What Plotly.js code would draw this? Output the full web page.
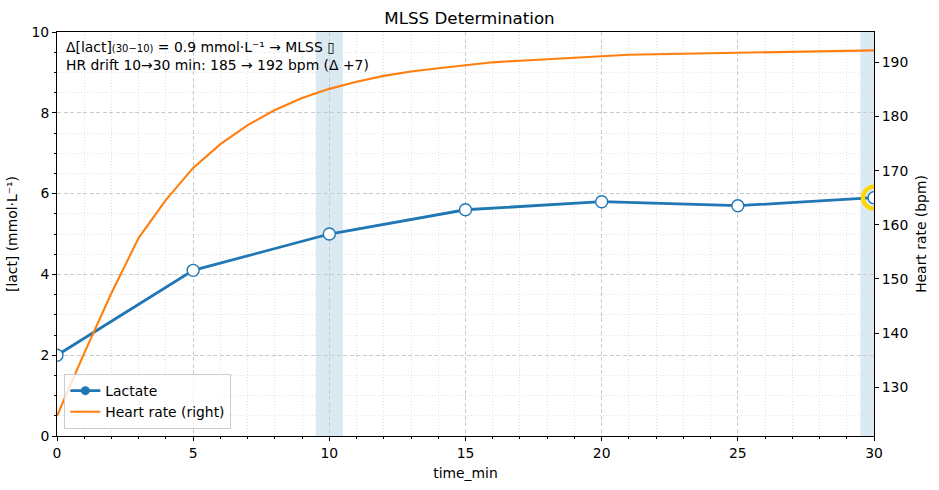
<!DOCTYPE html>
<html>
<head>
<meta charset="utf-8">
<script src="https://cdn.plot.ly/plotly-3.0.1.min.js"></script>
<style>html,body{margin:0;padding:0;background:#fff;}#chart{width:939px;height:490px;}</style>
</head>
<body>
<div id="chart"></div>
<script>
const lactTime = [0, 5, 10, 15, 20, 25, 30];
const lactVals = [2.0, 4.1, 5.0, 5.6, 5.8, 5.7, 5.9];
const hrTime = [0,1,2,3,4,5,6,7,8,9,10,11,12,13,14,15,16,17,18,19,20,21,22,23,24,25,26,27,28,29,30];
const hrVals = [124.7,136.3,147.4,157.6,164.6,170.5,174.9,178.4,181.2,183.4,185.1,186.4,187.5,188.3,188.9,189.5,190.0,190.3,190.6,190.9,191.2,191.4,191.5,191.6,191.7,191.8,191.9,192.0,192.1,192.1,192.2];
const bandCenters = [10, 30];
const highlightTime = [30];
const highlightVal = [5.9];
const annotationLines = ["Δ[lact]<span style=\"font-size:10px\">(30−10)</span> = 0.9 mmol·L⁻¹ → MLSS ▯", "HR drift 10→30 min: 185 → 192 bpm (Δ +7)"];

const blue = '#1f77b4', orange = '#ff7f0e';
const font = "DejaVu Sans, sans-serif";
const fs = 13.9;
const majorGrid = {showgrid: true, gridcolor: '#cbcbcb', griddash: '4px,2.5px', gridwidth: 1};
const minorGrid = {showgrid: true, gridcolor: '#e2e2e2', griddash: '1px,2px', gridwidth: 1};

const traces = [
  {x: lactTime, y: lactVals, mode: 'lines+markers', name: 'Lactate', showlegend: false,
   line: {color: blue, width: 2.8},
   marker: {size: 12, color: 'white', line: {color: blue, width: 1.4}}},
  {x: highlightTime, y: highlightVal, mode: 'markers', showlegend: false,
   marker: {size: 22, color: 'rgba(0,0,0,0)', line: {color: '#FFD700', width: 4.2}}},
  {x: [null], y: [null], mode: 'lines+markers', name: 'Lactate',
   line: {color: blue, width: 2.8}, marker: {size: 9, color: blue}},
  {x: hrTime, y: hrVals, mode: 'lines', name: 'Heart rate (right)', yaxis: 'y2',
   line: {color: orange, width: 2.1}}
];

const shapes = bandCenters.map(c => ({type: 'rect', xref: 'x', yref: 'paper', x0: c - 0.5, x1: c + 0.5, y0: 0, y1: 1,
  fillcolor: 'rgba(31,119,180,0.16)', line: {width: 0}, layer: 'below'}));

const layout = {
  width: 939, height: 490,
  margin: {l: 57, r: 65, t: 32, b: 54},
  paper_bgcolor: 'white', plot_bgcolor: 'white',
  font: {family: font, size: fs, color: '#000'},
  title: {text: 'MLSS Determination', font: {size: 16.7, family: font}, x: 0.5, xanchor: 'center', y: 0.963, yanchor: 'middle'},
  showlegend: true,
  legend: {x: 0.009, y: 0.017, xanchor: 'left', yanchor: 'bottom', bgcolor: 'rgba(255,255,255,0.8)',
           bordercolor: '#cccccc', borderwidth: 1, font: {size: fs, family: font}, tracegroupgap: 0, itemwidth: 30},
  xaxis: Object.assign({range: [0, 30], dtick: 5, tick0: 0, showline: true, linecolor: '#000', linewidth: 1, mirror: true,
          ticks: 'outside', ticklen: 4, tickcolor: '#000', zeroline: false,
          minor: Object.assign({dtick: 1, tick0: 0, ticks: 'outside', ticklen: 2, tickcolor: '#000'}, minorGrid),
          title: {text: 'time_min', font: {size: fs, family: font}, standoff: 8}}, majorGrid),
  yaxis: Object.assign({range: [0, 10], dtick: 2, tick0: 0, showline: true, linecolor: '#000', linewidth: 1,
          ticks: 'outside', ticklen: 4, tickcolor: '#000', zeroline: false,
          minor: Object.assign({dtick: 0.5, tick0: 0, ticks: 'outside', ticklen: 2, tickcolor: '#000'}, minorGrid),
          title: {text: '[lact] (mmol·L⁻¹)', font: {size: fs, family: font}, standoff: 10}}, majorGrid),
  yaxis2: {range: [121, 195.6], dtick: 10, tick0: 130, overlaying: 'y', side: 'right', showgrid: false, zeroline: false,
           showline: true, linecolor: '#000', linewidth: 1, ticks: 'outside', ticklen: 4, tickcolor: '#000',
           title: {text: 'Heart rate (bpm)', font: {size: fs, family: font}, standoff: 8}},
  shapes: shapes,
  annotations: [{xref: 'paper', yref: 'paper', x: 0.009, y: 0.988, xanchor: 'left', yanchor: 'top', align: 'left',
                 showarrow: false, text: annotationLines.join('<br>'), font: {size: fs, family: font}}]
};

Plotly.newPlot('chart', traces, layout, {staticPlot: true, displayModeBar: false});
</script>
</body>
</html>
